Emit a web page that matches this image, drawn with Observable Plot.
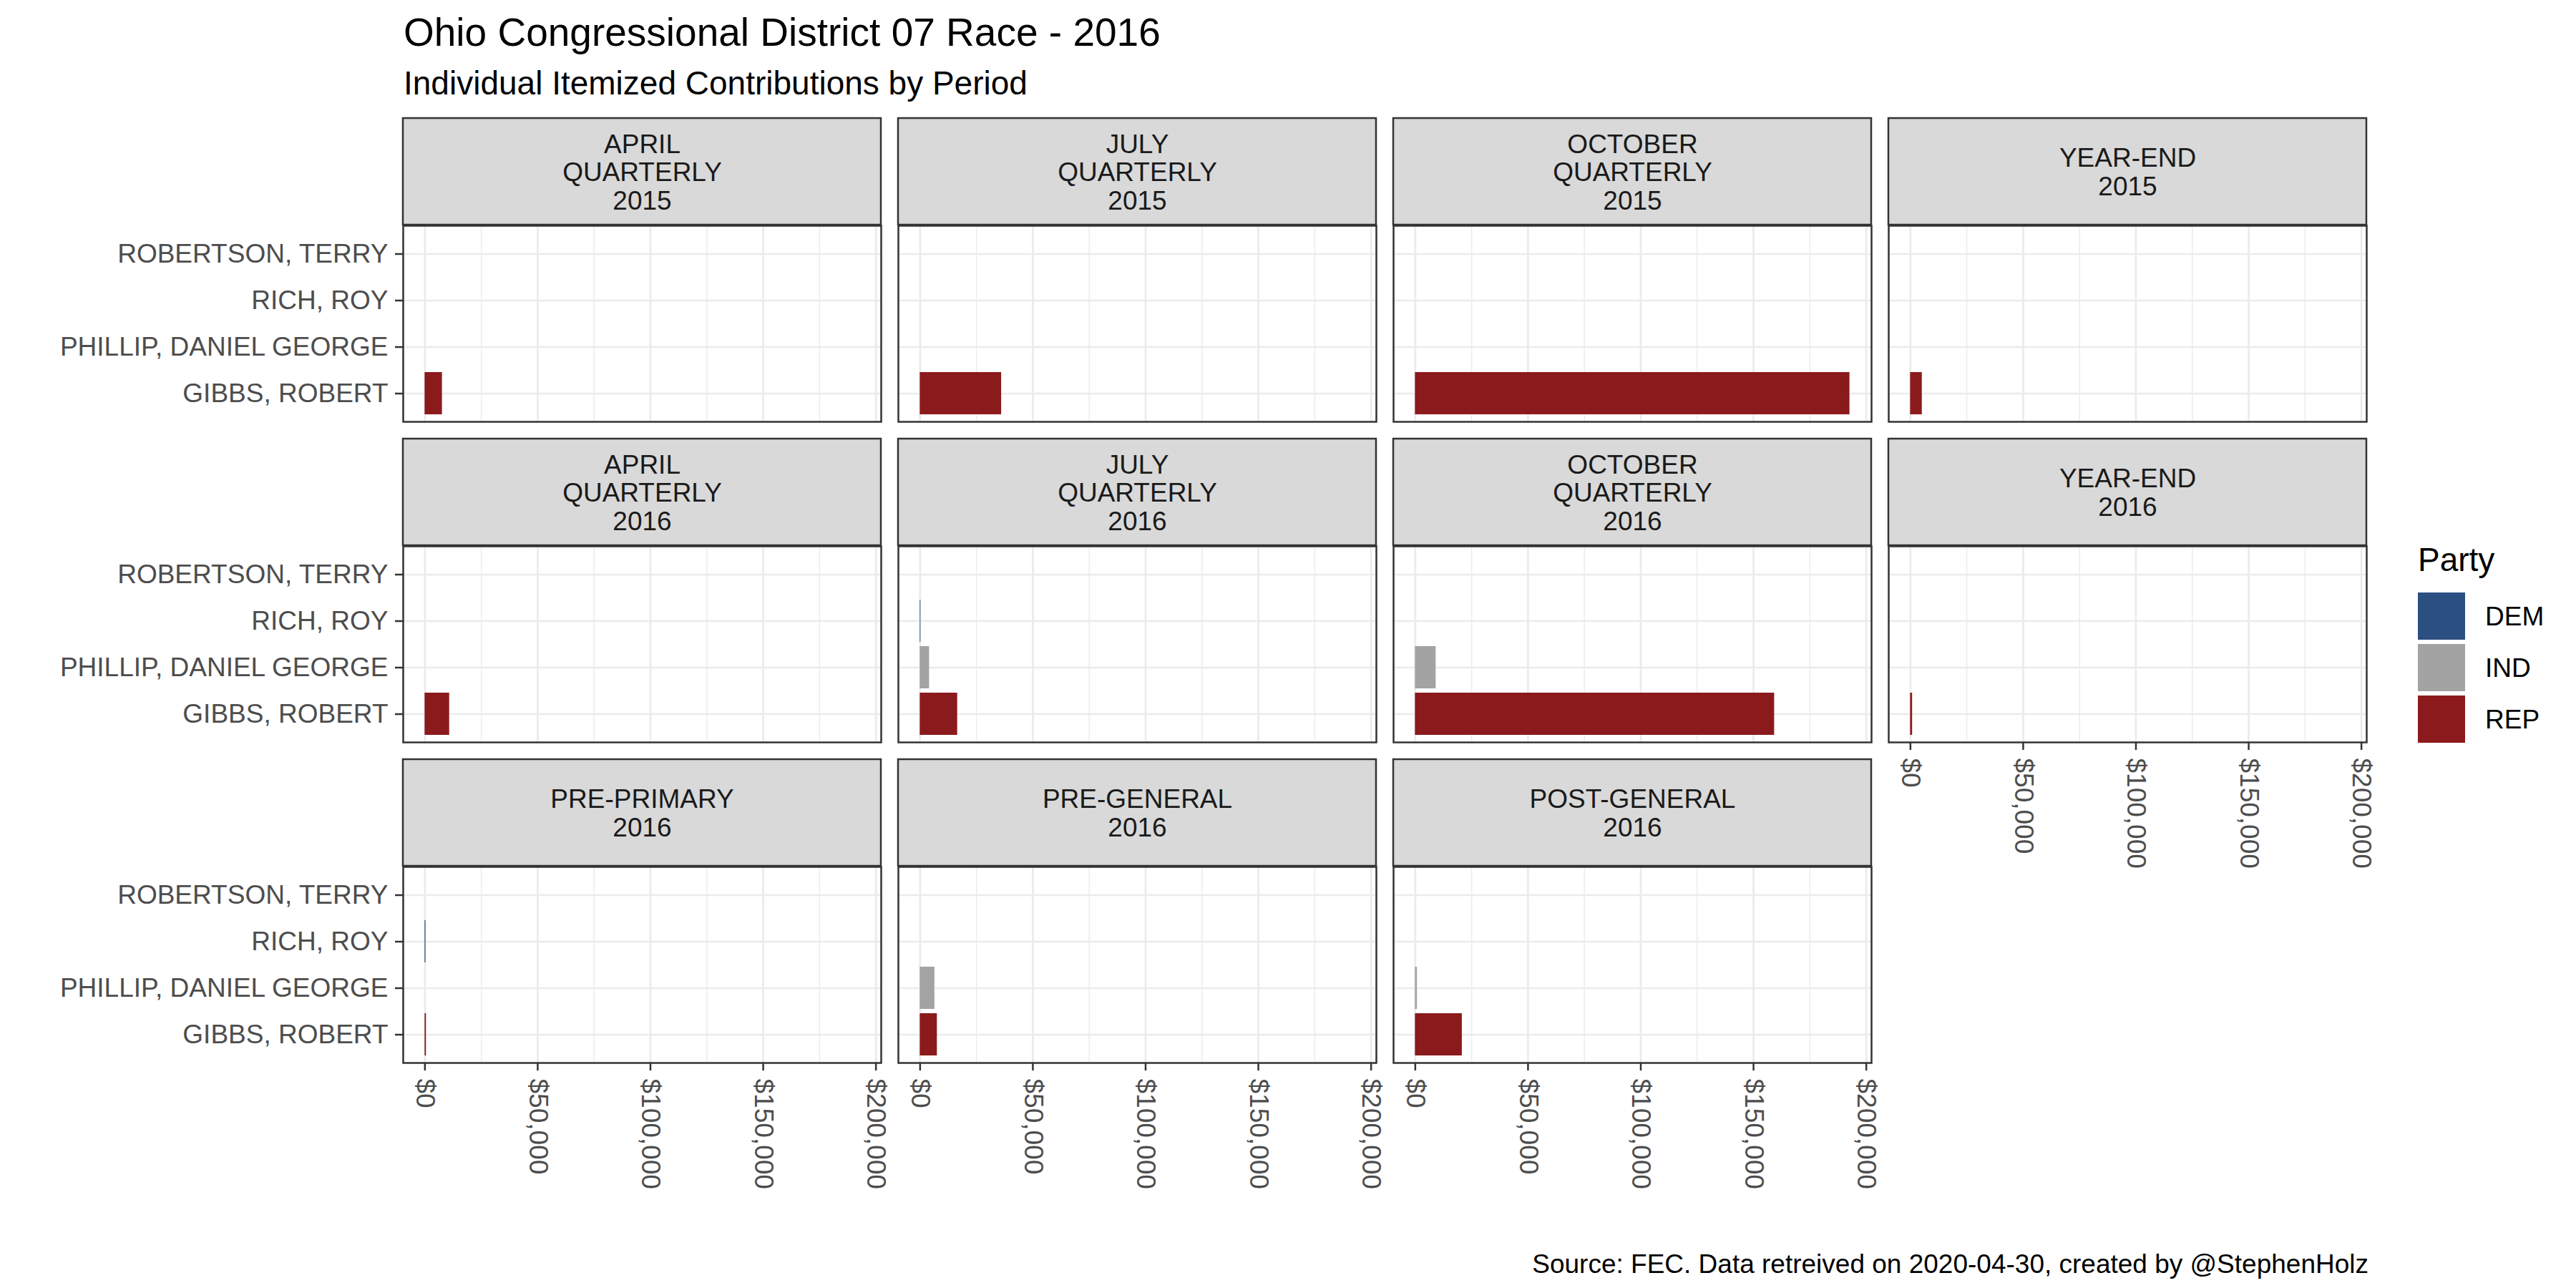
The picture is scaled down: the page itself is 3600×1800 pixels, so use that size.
<!DOCTYPE html>
<html>
<head>
<meta charset="utf-8">
<script src="https://cdn.jsdelivr.net/npm/d3@7"></script>
<script src="https://cdn.jsdelivr.net/npm/@observablehq/plot@0.6"></script>
<style>
  html, body { margin: 0; padding: 0; background: #fff; }
  #page { position: relative; width: 3600px; height: 1800px; background: #fff;
          font-family: "Liberation Sans", Arial, Helvetica, sans-serif; overflow: hidden; }
  .txt { position: absolute; white-space: nowrap; line-height: 1; }
  #chart { position: absolute; left: 0; top: 0; }
  .key { position: absolute; display: flex; align-items: center; }
  .sw { width: 66px; height: 66px; }
  .kl { font-size: 37px; color: #000; margin-left: 28px; line-height: 1; }
</style>
</head>
<body>
<div id="page">
  <div id="chart"></div>
  <div class="txt" id="title" style="left:564px; top:18px; font-size:55px; color:#000;"></div>
  <div class="txt" id="subtitle" style="left:564px; top:93px; font-size:46px; color:#000;"></div>
  <div class="txt" id="caption" style="right:290px; top:1748px; font-size:37px; color:#000;"></div>
  <div id="legend"></div>
</div>
<script>
// ---------- data ----------
const titleText = "Ohio Congressional District 07 Race - 2016";
const subtitleText = "Individual Itemized Contributions by Period";
const captionText = "Source: FEC. Data retreived on 2020-04-30, created by @StephenHolz";
const legendTitle = "Party";

const periods = [
  "APRIL\nQUARTERLY\n2015", "JULY\nQUARTERLY\n2015", "OCTOBER\nQUARTERLY\n2015", "YEAR-END\n2015",
  "APRIL\nQUARTERLY\n2016", "JULY\nQUARTERLY\n2016", "OCTOBER\nQUARTERLY\n2016", "YEAR-END\n2016",
  "PRE-PRIMARY\n2016", "PRE-GENERAL\n2016", "POST-GENERAL\n2016"
];
// top to bottom as shown
const candidates = ["ROBERTSON, TERRY", "RICH, ROY", "PHILLIP, DANIEL GEORGE", "GIBBS, ROBERT"];
const candidateParty = ["DEM", "DEM", "IND", "REP"];

// contributions per period (same order as periods); null = no bar
const robertsonValues = [null, null, null, null, null, null, null, null, null, null, null];
const richValues      = [null, null, null, null, null, 300, null, null, 400, null, null];
const phillipValues   = [null, null, null, null, null, 4150, 9200, null, null, 6500, 900];
const gibbsValues     = [7700, 36100, 192700, 5200, 10900, 16600, 159300, 900, 600, 7600, 20800];

const parties = ["DEM", "IND", "REP"];
const partyColors = ["#2C4F82", "#A3A3A3", "#8B1A1D"];

const xTicks = [0, 50000, 100000, 150000, 200000];
const xMinorTicks = [25000, 75000, 125000, 175000];

// ---------- build ----------
const ncol = 4;
const valueSets = [robertsonValues, richValues, phillipValues, gibbsValues];
const bars = [];
candidates.forEach((name, ci) => {
  valueSets[ci].forEach((v, pi) => {
    if (v != null) bars.push({name, party: candidateParty[ci], value: v, col: pi % ncol, row: Math.floor(pi / ncol)});
  });
});
const strips = periods.map((label, pi) => ({label, col: pi % ncol, row: Math.floor(pi / ncol)}));

const W = 3600, H = 1800;
const mTop = 314, mBottom = 313, mLeft = 563, mRight = 292;
const fyPadInner = 0.3875, fxPadInner = 0.0343;
const nrow = 3;
const fyStep = (H - mTop - mBottom) / (nrow - fyPadInner);
const facetH = fyStep * (1 - fyPadInner);
const stripH = 150;

const xmax = d3.max(bars, d => d.value);
const fmt = d3.format(",");

const chart = Plot.plot({
  width: W, height: H,
  marginTop: mTop, marginBottom: mBottom, marginLeft: mLeft, marginRight: mRight,
  style: {fontFamily: '"Liberation Sans", Arial, Helvetica, sans-serif', fontSize: "37px", background: "transparent"},
  fx: {domain: [0, 1, 2, 3], paddingInner: fxPadInner, paddingOuter: 0, axis: null, label: null},
  fy: {domain: [0, 1, 2], paddingInner: fyPadInner, paddingOuter: 0, axis: null, label: null},
  x: {domain: [-0.05 * xmax, 1.05 * xmax], label: null},
  y: {type: "band", domain: candidates, paddingInner: 0.1, paddingOuter: 0.15, align: 0.5, label: null},
  color: {domain: parties, range: partyColors},
  marks: [
    Plot.gridX(xMinorTicks, {stroke: "#ebebeb", strokeOpacity: 1, strokeWidth: 1.4}),
    Plot.gridX(xTicks, {stroke: "#ebebeb", strokeOpacity: 1, strokeWidth: 2.7}),
    Plot.gridY({stroke: "#ebebeb", strokeOpacity: 1, strokeWidth: 2.7}),
    Plot.barX(bars, {x: "value", y: "name", fill: "party", fx: "col", fy: "row"}),
    Plot.frame({stroke: "#333333", strokeWidth: 2.5}),
    Plot.rect(strips, {fx: "col", fy: "row", fill: "#d9d9d9", stroke: "#333333", strokeWidth: 2.5,
                       insetBottom: facetH - stripH, dy: -stripH}),
    Plot.text(strips, {fx: "col", fy: "row", text: "label", frameAnchor: "top", dy: -stripH / 2,
                       lineAnchor: "middle", lineHeight: 1.07, fontSize: 37, fill: "#1a1a1a"}),
    Plot.axisY({anchor: "left", tickSize: 11, tickPadding: 10, fontSize: 37, fill: "#4d4d4d",
                stroke: "#333333", strokeWidth: 2.5, label: null}),
    Plot.axisX(xTicks, {anchor: "bottom", facetAnchor: "bottom-empty", tickSize: 11, tickPadding: 11,
                tickRotate: 90, textAnchor: "start", fontSize: 37, fill: "#4d4d4d", stroke: "#333333",
                strokeWidth: 2.5, tickFormat: d => "$" + fmt(d), label: null})
  ]
});
document.getElementById("chart").appendChild(chart);

document.getElementById("title").textContent = titleText;
document.getElementById("subtitle").textContent = subtitleText;
document.getElementById("caption").textContent = captionText;

// legend
const lg = document.getElementById("legend");
const lt = document.createElement("div");
lt.className = "txt";
lt.style.cssText = "left:3379px; top:759px; font-size:46px; color:#000;";
lt.textContent = legendTitle;
lg.appendChild(lt);
parties.forEach((p, i) => {
  const k = document.createElement("div");
  k.className = "key";
  k.style.left = "3379px";
  k.style.top = (828 + i * 72) + "px";
  const sw = document.createElement("div");
  sw.className = "sw";
  sw.style.background = partyColors[i];
  const kl = document.createElement("div");
  kl.className = "kl";
  kl.textContent = p;
  k.appendChild(sw); k.appendChild(kl);
  lg.appendChild(k);
});
</script>
</body>
</html>
